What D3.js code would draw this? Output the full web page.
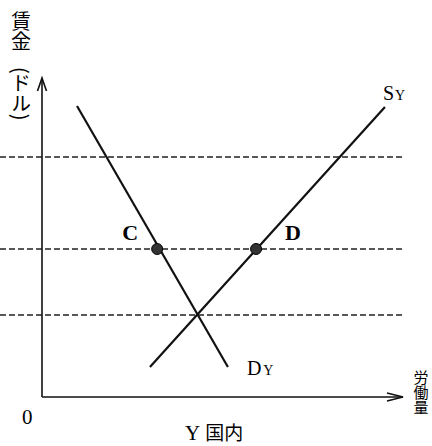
<!DOCTYPE html>
<html>
<head>
<meta charset="utf-8">
<script src="https://cdn.jsdelivr.net/npm/d3@7"></script>
<style>
  body { margin: 0; background: #fff; }
  svg { display: block; }
  .serif { font-family: "Liberation Serif", "DejaVu Serif", serif; }
  .jp { font-family: "Noto Sans CJK JP", sans-serif; }
  .vert { writing-mode: vertical-rl; }
</style>
</head>
<body>
<svg id="chart" width="432" height="446"></svg>
<script>
// wage levels (dashed lines), in chart units 0-100
const wageLevels = [75.2, 46.4, 25.7]

// demand curve D_Y and supply curve S_Y end points
const demandLine = [{ x: 9.7, y: 91.2 }, { x: 51.5, y: 9.4 }]
const supplyLine = [{ x: 29.9, y: 9.4 }, { x: 95.0, y: 90.9 }]

// marked points
const points = [
  { name: 'C', x: 31.9, y: 46.4 },
  { name: 'D', x: 59.3, y: 46.4 }
]

// axis titles (written vertically)
const yTitle = '賃金'
const yUnit = '(ドル)'
const xTitle = '労働量'

const width = 432, height = 446
const origin = [42, 397]

const xScale = d3.scaleLinear().domain([0, 100]).range([origin[0], 403])
const yScale = d3.scaleLinear().domain([0, 100]).range([origin[1], 78])

const svg = d3.select('#chart')

// dashed wage lines
svg.append('g')
  .selectAll('line')
  .data(wageLevels)
  .enter().append('line')
  .attr('x1', 0)
  .attr('x2', xScale(100.5))
  .attr('y1', d => yScale(d))
  .attr('y2', d => yScale(d))
  .attr('stroke', '#222')
  .attr('stroke-width', 1.5)
  .attr('stroke-dasharray', '6,3')

// axes
const axes = svg.append('g').attr('stroke', '#111').attr('stroke-width', 1.6).attr('fill', 'none')
axes.append('line')
  .attr('x1', xScale(0)).attr('y1', yScale(0))
  .attr('x2', xScale(0)).attr('y2', yScale(100))
axes.append('line')
  .attr('x1', xScale(0)).attr('y1', yScale(0))
  .attr('x2', xScale(100)).attr('y2', yScale(0))
// arrow heads
axes.append('path')
  .attr('d', `M${xScale(0) - 4.5},${yScale(100) + 13} L${xScale(0)},${yScale(100)} L${xScale(0) + 4.5},${yScale(100) + 13}`)
axes.append('path')
  .attr('d', `M${xScale(100) - 16},${yScale(0) - 4} L${xScale(100)},${yScale(0)} L${xScale(100) - 16},${yScale(0) + 4}`)

// curves
const line = d3.line().x(d => xScale(d.x)).y(d => yScale(d.y))
svg.append('g')
  .selectAll('path')
  .data([demandLine, supplyLine])
  .enter().append('path')
  .attr('d', line)
  .attr('fill', 'none')
  .attr('stroke', '#111')
  .attr('stroke-width', 2.2)

// points C, D
svg.append('g')
  .selectAll('circle')
  .data(points)
  .enter().append('circle')
  .attr('cx', d => xScale(d.x))
  .attr('cy', d => yScale(d.y))
  .attr('r', 5.5)
  .attr('fill', '#333')
  .attr('stroke', '#000')
  .attr('stroke-width', 1)

svg.append('g')
  .selectAll('text')
  .data(points)
  .enter().append('text')
  .attr('class', 'serif')
  .attr('x', d => d.name == 'C' ? xScale(d.x) - 35 : xScale(d.x) + 29)
  .attr('y', d => yScale(d.y) - 9)
  .attr('font-size', 22)
  .attr('font-weight', 'bold')
  .text(d => d.name)

// curve labels
const sLabel = svg.append('text').attr('class', 'serif')
  .attr('x', xScale(supplyLine[1].x) - 2)
  .attr('y', yScale(supplyLine[1].y) - 7)
sLabel.append('tspan').attr('font-size', 20).text('S')
sLabel.append('tspan').attr('font-size', 14).attr('dx', 1).text('Y')

const dLabel = svg.append('text').attr('class', 'serif')
  .attr('x', xScale(demandLine[1].x) + 19)
  .attr('y', yScale(demandLine[1].y) + 8)
dLabel.append('tspan').attr('font-size', 20).text('D')
dLabel.append('tspan').attr('font-size', 14).attr('dx', 2).text('Y')

// origin and caption
svg.append('text').attr('class', 'serif')
  .attr('x', 22).attr('y', 424)
  .attr('font-size', 21)
  .text('0')

const caption = svg.append('text')
  .attr('x', 185).attr('y', 440)
caption.append('tspan').attr('class', 'serif').attr('font-size', 21).text('Y')
caption.append('tspan').attr('class', 'jp').attr('font-size', 19).attr('dx', 5).text('国内')

// vertical titles
svg.append('text').attr('class', 'jp vert')
  .attr('x', 21).attr('y', 11)
  .attr('font-size', 20)
  .text(yTitle)

svg.append('text').attr('class', 'jp vert')
  .attr('x', 21).attr('y', 67)
  .attr('font-size', 20)
  .text(yUnit)

svg.append('text').attr('class', 'jp vert')
  .attr('x', 421).attr('y', 370)
  .attr('font-size', 15)
  .text(xTitle)
</script>
</body>
</html>
